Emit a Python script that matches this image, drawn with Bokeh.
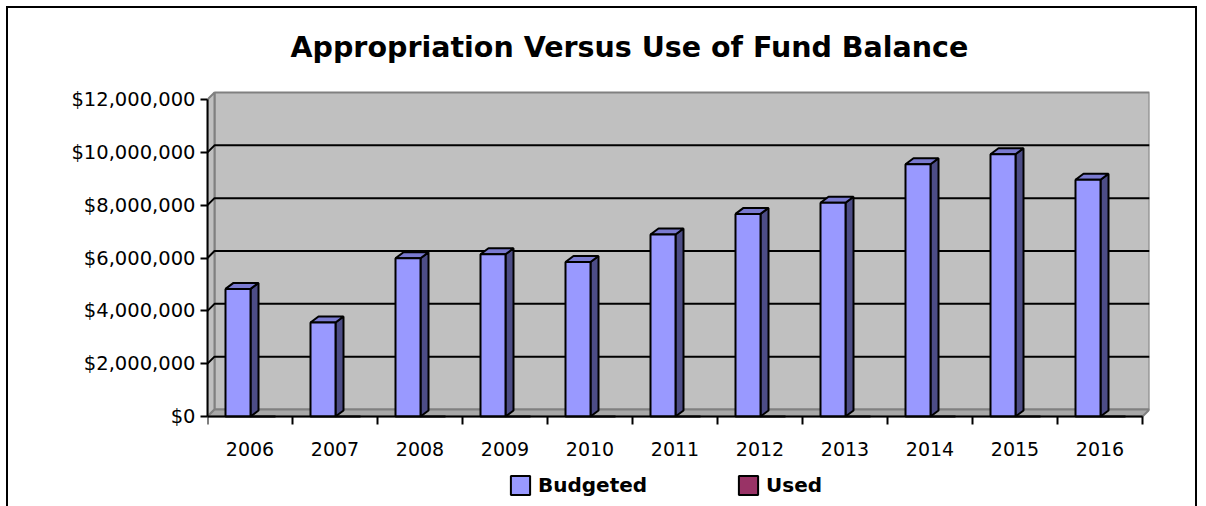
from bokeh.plotting import figure
from bokeh.models import Range1d, FixedTicker, NumeralTickFormatter, Legend, LegendItem, ColumnDataSource
from bokeh.core.properties import value
from bokeh.embed import file_html
from bokeh.resources import INLINE

# ---------------- data ----------------
years = ["2006", "2007", "2008", "2009", "2010", "2011", "2012", "2013", "2014", "2015", "2016"]
budgeted = [4830000, 3560000, 5990000, 6140000, 5850000, 6890000, 7670000, 8090000, 9550000, 9930000, 8960000]
used = [0, 0, 0, 0, 0, 0, 0, 0, 0, 0, 0]
y_ticks = [0, 2000000, 4000000, 6000000, 8000000, 10000000, 12000000]
title_text = "Appropriation Versus Use of Fund Balance"

# ---------------- layout ----------------
W, H = 1187, 498
FL, FR = 199, 1141                            # frame edges in canvas px (frame spans full height)
ZERO, TOP12 = 408, 91                         # canvas px of value 0 and of the top tick
n = len(years)
PX_X = 85.0                                   # px per category
WALL = 7                                      # 3-D depth of walls in px
ymax = y_ticks[-1]
PX_Y = (ZERO - TOP12) / ymax                  # px per dollar
x_end = (FR - FL) / PX_X
y_end = ZERO / PX_Y
y_start = -(H - ZERO) / PX_Y
DX, DY = WALL / PX_X, WALL / PX_Y             # wall depth in data units
BDX, BDY = 8 / PX_X, 6 / PX_Y                 # bar depth in data units
BAR_L, BAR_W = 18 / PX_X, 25 / PX_X           # bar front face offset/width
TICK = 8 / PX_Y                               # x tick length
LAB = 32 / PX_Y                               # x label distance below axis
TITLE_X = (282 - FL) / PX_X                   # title start
TITLE_Y = (ZERO - 39) / PX_Y                  # title baseline
FONT = "DejaVu Sans"

p = figure(width=W, height=H, output_backend="svg", toolbar_location=None,
           x_range=Range1d(0, x_end), y_range=Range1d(y_start, y_end),
           x_axis_location=None,
           min_border_left=FL, min_border_right=W - FR,
           min_border_top=0, min_border_bottom=0)
p.styles = {"margin-left": "8px", "margin-top": "8px", "outline": "2px solid black"}
p.outline_line_color = None
p.background_fill_color = "white"
p.border_fill_color = "white"
p.xgrid.visible = False
p.ygrid.visible = False

# ---------- title ----------
p.text(x=[TITLE_X], y=[TITLE_Y], text=[title_text],
       text_font=value(FONT), text_font_style="bold", text_font_size=value("28.5px"),
       text_color="black", text_align="left", text_baseline="alphabetic")

# ---------- walls & floor ----------
p.patch([DX, n + DX, n + DX, DX], [DY, DY, ymax + DY, ymax + DY],
        fill_color="#C0C0C0", line_color="#808080", line_width=2)
p.patch([0, DX, DX, 0], [0, DY, ymax + DY, ymax],
        fill_color="#C0C0C0", line_color="#808080", line_width=2)
p.patch([0, n, n + DX, DX], [0, 0, DY, DY],
        fill_color="#A8A8A8", line_color="#808080", line_width=2)

# gridlines on left and back walls
gxs, gys = [], []
for t in y_ticks:
    if 0 < t < ymax:
        gxs.append([0, DX, n + DX])
        gys.append([t, t + DY, t + DY])
p.multi_line(gxs, gys, line_color="black", line_width=2)

# ---------- bars ----------
lefts = [i + BAR_L for i in range(n)]
rights = [l + BAR_W for l in lefts]
src = ColumnDataSource(dict(
    x=[(l + r) / 2 for l, r in zip(lefts, rights)], top=budgeted,
    sxs=[[r, r + BDX, r + BDX, r] for r in rights],
    sys=[[0, BDY, v + BDY, v] for v in budgeted],
    txs=[[l, r, r + BDX, l + BDX] for l, r in zip(lefts, rights)],
    tys=[[v, v, v + BDY, v + BDY] for v in budgeted],
))
p.patches("sxs", "sys", source=src, fill_color="#4D4D86", line_color="black", line_width=2)
p.patches("txs", "tys", source=src, fill_color="#7A7AD0", line_color="black", line_width=2)
r_b = p.vbar(x="x", top="top", width=BAR_W, bottom=0, source=src,
             fill_color="#9999FF", line_color="black", line_width=2)
r_u = p.vbar(x=[r + BAR_W / 2 for r in rights], top=used, width=BAR_W, bottom=0,
             fill_color="#993366", line_color="black", line_width=2)

# ---------- category axis (line, boundary ticks, centred labels) ----------
p.segment(x0=[0], y0=[0], x1=[n], y1=[0], line_color="black", line_width=2)
p.segment(x0=list(range(n + 1)), y0=[0] * (n + 1), x1=list(range(n + 1)), y1=[-TICK] * (n + 1),
          line_color="black", line_width=2)
p.text(x=[i + 0.5 for i in range(n)], y=[-LAB] * n, text=years,
       text_font=value(FONT), text_font_size=value("19px"), text_color="black",
       text_align="center", text_baseline="middle")

# ---------- value axis ----------
ya = p.yaxis[0]
ya.ticker = FixedTicker(ticks=y_ticks)
ya.formatter = NumeralTickFormatter(format="$0,0")
ya.bounds = (0, ymax)
ya.major_tick_out = 7
ya.major_tick_in = 0
ya.major_tick_line_width = 2
ya.major_tick_line_color = "black"
ya.minor_tick_line_color = None
ya.axis_line_width = 2
ya.axis_line_color = "black"
ya.major_label_text_font = FONT
ya.major_label_text_font_size = "19.5px"
ya.major_label_text_color = "black"
ya.major_label_standoff = 5

# ---------- legend ----------
legend = Legend(items=[LegendItem(label="Budgeted", renderers=[r_b]),
                       LegendItem(label="Used", renderers=[r_u])],
                orientation="horizontal", location=(301, 9),
                glyph_width=24, glyph_height=24, label_height=19,
                label_width=160, spacing=38, label_standoff=6,
                padding=0, margin=0, border_line_color=None,
                background_fill_alpha=0)
legend.label_text_font = FONT
legend.label_text_font_style = "bold"
legend.label_text_font_size = "20px"
legend.label_text_color = "black"
p.add_layout(legend, "center")

open("out.html", "w").write(file_html(p, INLINE))
